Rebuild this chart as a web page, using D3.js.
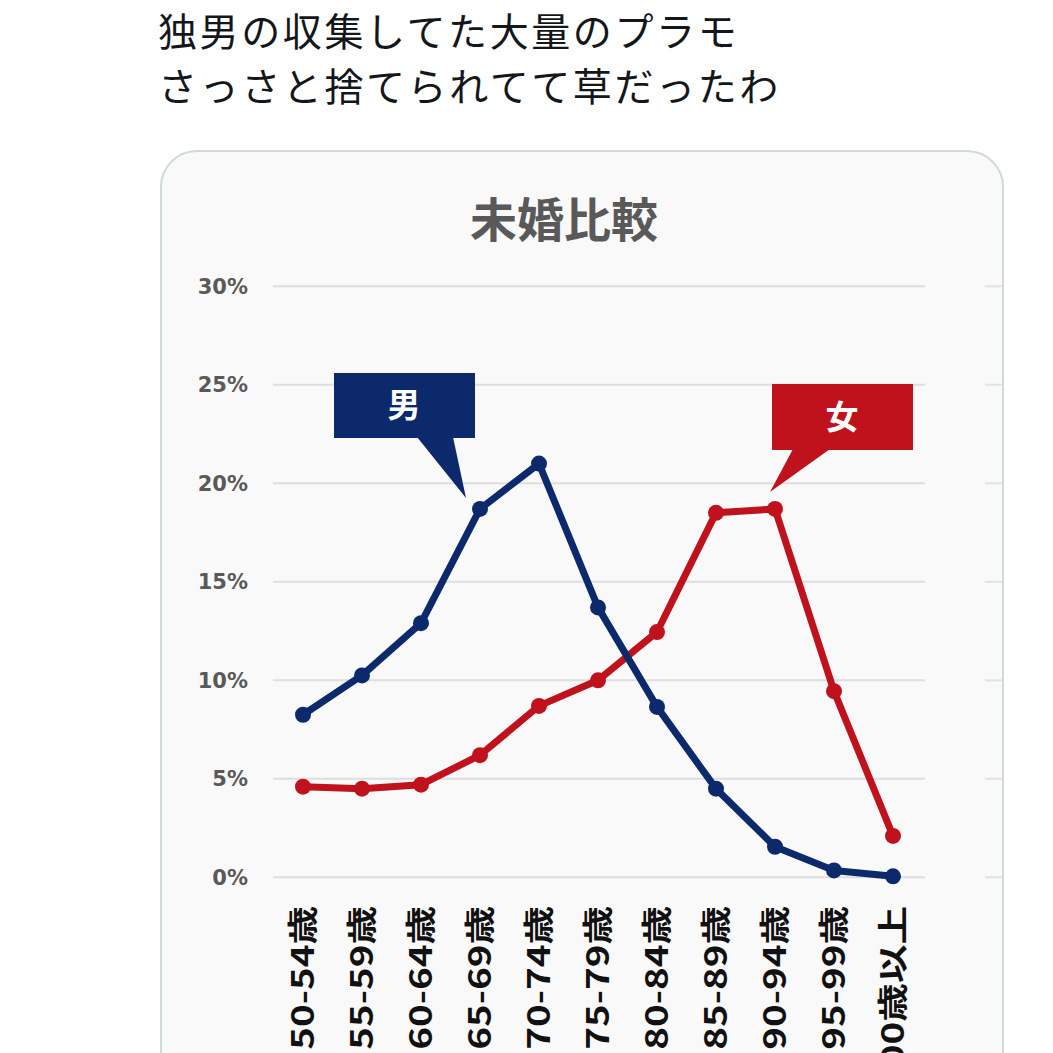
<!DOCTYPE html>
<html>
<head>
<meta charset="utf-8">
<script src="https://cdn.jsdelivr.net/npm/d3@7"></script>
<style>
  html, body { margin: 0; padding: 0; background: #fff; }
  svg { display: block; }
</style>
</head>
<body>
<div id="main"></div>
<script>
'use strict';

// data
var ages = ['50-54歳', '55-59歳', '60-64歳', '65-69歳', '70-74歳', '75-79歳',
            '80-84歳', '85-89歳', '90-94歳', '95-99歳', '100歳以上'];
var male   = [8.25, 10.25, 12.9, 18.7, 21.0, 13.7, 8.65, 4.5, 1.55, 0.35, 0.05];
var female = [4.6, 4.5, 4.7, 6.2, 8.7, 10.0, 12.45, 18.5, 18.7, 9.45, 2.1];
var yTicks = [0, 5, 10, 15, 20, 25, 30];
var tweet = ['独男の収集してた大量のプラモ', 'さっさと捨てられてて草だったわ'];

var W = 1053, H = 1053;
var NAVY = '#0c2a6b', RED = '#c0121c';
var CJK = '"Noto Sans CJK JP", "Noto Sans", sans-serif';

var svg = d3.select('#main').append('svg').attr('width', W).attr('height', H);

// tweet text
svg.selectAll('.tweet')
  .data(tweet).enter()
  .append('text')
  .attr('class', 'tweet')
  .attr('x', 158)
  .attr('y', function(d, i) { return 46 + i * 55; })
  .style('font-family', CJK)
  .style('font-size', '39px')
  .style('letter-spacing', '2.6px')
  .style('fill', '#14171a')
  .text(function(d) { return d; });

// card
svg.append('rect')
  .attr('x', 161).attr('y', 151)
  .attr('width', 842).attr('height', 960)
  .attr('rx', 36).attr('ry', 36)
  .style('fill', '#f9f9f9')
  .style('stroke', '#cfd9de')
  .style('stroke-width', 2);

svg.append('text')
  .attr('x', 564).attr('y', 237)
  .attr('text-anchor', 'middle')
  .style('font-family', CJK)
  .style('font-weight', 'bold')
  .style('font-size', '47px')
  .style('fill', '#595959')
  .text('未婚比較');

var x = d3.scalePoint().domain(ages).range([303, 893]);
var y = d3.scaleLinear().domain([0, 30]).range([877.3, 286.3]);

// gridlines + stubs of the neighbouring chart
var grid = svg.append('g');
grid.selectAll('.grid')
  .data(yTicks).enter()
  .append('line')
  .attr('x1', 273).attr('x2', 925)
  .attr('y1', function(d) { return y(d); })
  .attr('y2', function(d) { return y(d); })
  .style('stroke', '#dedede').style('stroke-width', 2);
grid.selectAll('.stub')
  .data(yTicks).enter()
  .append('line')
  .attr('x1', 985).attr('x2', 1002)
  .attr('y1', function(d) { return y(d); })
  .attr('y2', function(d) { return y(d); })
  .style('stroke', '#e2e2e2').style('stroke-width', 2);

// y axis labels
var yAxis = d3.axisLeft(y).tickValues(yTicks).tickSize(0).tickPadding(0)
  .tickFormat(function(d) { return d + '%'; });
var ya = svg.append('g').attr('transform', 'translate(248,0)').call(yAxis);
ya.select('.domain').remove();
ya.selectAll('text')
  .style('font-family', '"DejaVu Sans", sans-serif')
  .style('font-weight', 'bold')
  .style('font-size', '21px')
  .style('fill', '#595959');

// x axis labels, rotated
var xAxis = d3.axisBottom(x).tickSize(0).tickPadding(0);
var xa = svg.append('g').attr('transform', 'translate(0,906)').call(xAxis);
xa.select('.domain').remove();
xa.selectAll('text')
  .attr('x', 0).attr('y', 0).attr('dy', '0.35em')
  .attr('text-anchor', 'end')
  .attr('transform', 'rotate(-90) scale(1.33,1.05)')
  .style('font-family', CJK)
  .style('font-weight', 'bold')
  .style('font-size', '29px')
  .style('fill', '#111');

// lines
var line = d3.line()
  .x(function(d, i) { return x(ages[i]); })
  .y(function(d) { return y(d); });

function drawSeries(values, color) {
  var g = svg.append('g');
  g.append('path')
    .datum(values)
    .attr('d', line)
    .style('fill', 'none')
    .style('stroke', color)
    .style('stroke-width', 7)
    .style('stroke-linejoin', 'round');
  g.selectAll('circle')
    .data(values).enter()
    .append('circle')
    .attr('cx', function(d, i) { return x(ages[i]); })
    .attr('cy', function(d) { return y(d); })
    .attr('r', 8)
    .style('fill', color);
}
drawSeries(female, RED);
drawSeries(male, NAVY);

// callouts
function callout(label, color, box, tail, tip, tx, ty) {
  var g = svg.append('g');
  g.append('rect')
    .attr('x', box[0]).attr('y', box[1])
    .attr('width', box[2]).attr('height', box[3])
    .style('fill', color);
  g.append('polygon')
    .attr('points', [[tail[0], box[1] + box[3] - 1], [tail[1], box[1] + box[3] - 1], tip].join(' '))
    .style('fill', color);
  g.append('text')
    .attr('x', tx).attr('y', ty)
    .attr('text-anchor', 'middle')
    .attr('dy', '0.36em')
    .style('font-family', CJK)
    .style('font-weight', 'bold')
    .style('font-size', '33px')
    .style('fill', '#fff')
    .text(label);
}

var mTip = [x(ages[3]) - 14, y(male[3]) - 11];
var fTip = [x(ages[8]) - 5, y(female[8]) - 17];
callout('男', NAVY, [334, 373, 141, 65], [417, 453], mTip, 404, 405);
callout('女', RED, [772, 384, 141, 66], [793, 830], fTip, 842, 417);
</script>
</body>
</html>
